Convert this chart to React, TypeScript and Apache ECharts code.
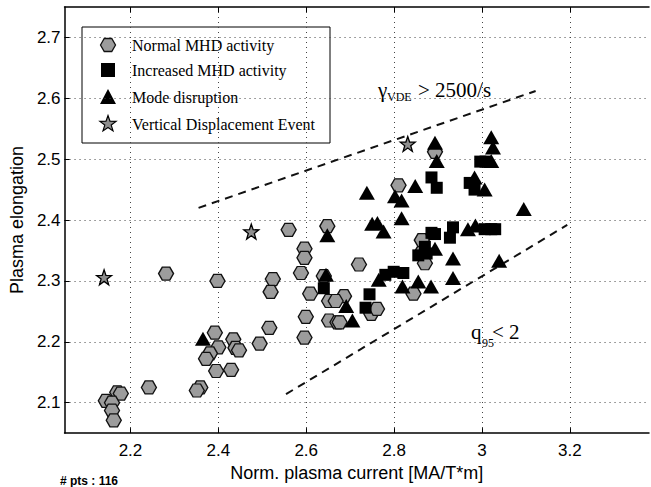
import React, { useEffect, useRef } from 'react';
import * as echarts from 'echarts';

// Tick positions on both axes
const xTicks = [2.2, 2.4, 2.6, 2.8, 3.0, 3.2];
const yTicks = [2.1, 2.2, 2.3, 2.4, 2.5, 2.6, 2.7];

// [normalised plasma current, plasma elongation]
const normalMHD = [
  [2.144, 2.103], [2.170, 2.117], [2.178, 2.115], [2.158, 2.100], [2.158, 2.087], [2.162, 2.071],
  [2.242, 2.125], [2.281, 2.312], [2.398, 2.300],
  [2.392, 2.215], [2.400, 2.191], [2.381, 2.181], [2.372, 2.172],
  [2.434, 2.204], [2.439, 2.190], [2.447, 2.186],
  [2.395, 2.152], [2.429, 2.154], [2.359, 2.125], [2.351, 2.120],
  [2.494, 2.197], [2.516, 2.223],
  [2.560, 2.384], [2.648, 2.390], [2.596, 2.353], [2.596, 2.338], [2.588, 2.313], [2.524, 2.303], [2.519, 2.282],
  [2.640, 2.308], [2.609, 2.279], [2.652, 2.267], [2.599, 2.241], [2.652, 2.235], [2.671, 2.232], [2.596, 2.207],
  [2.720, 2.327], [2.686, 2.275], [2.667, 2.267], [2.676, 2.232], [2.748, 2.246], [2.761, 2.254],
  [2.844, 2.279], [2.866, 2.351], [2.870, 2.329], [2.863, 2.367],
  [2.810, 2.457], [2.893, 2.512],
];

const increasedMHD = [
  [2.640, 2.288], [2.744, 2.278], [2.735, 2.256], [2.780, 2.310], [2.799, 2.315], [2.821, 2.313],
  [2.855, 2.342], [2.874, 2.345], [2.870, 2.356], [2.885, 2.379], [2.893, 2.377],
  [2.934, 2.388], [2.927, 2.371], [3.006, 2.385], [3.021, 2.385], [3.030, 2.385],
  [2.885, 2.470], [2.897, 2.453], [2.972, 2.461], [2.983, 2.450], [2.996, 2.496], [3.008, 2.496],
];

const modeDisruption = [
  [2.365, 2.205], [2.648, 2.375], [2.645, 2.310], [2.691, 2.259], [2.705, 2.235], [2.765, 2.302],
  [2.819, 2.291], [2.855, 2.299], [2.884, 2.291], [2.934, 2.305], [2.934, 2.337], [3.039, 2.333],
  [2.738, 2.445], [2.848, 2.456], [2.802, 2.439], [2.817, 2.432], [2.817, 2.403],
  [2.750, 2.394], [2.762, 2.395], [2.776, 2.381], [2.893, 2.353],
  [2.893, 2.527], [2.897, 2.497],
  [3.021, 2.536], [3.025, 2.519], [3.021, 2.497], [2.983, 2.470], [3.006, 2.450], [3.095, 2.418],
  [2.968, 2.385], [2.985, 2.391],
];

const verticalDisplacement = [
  [2.140, 2.306], [2.475, 2.381], [2.831, 2.525],
];

// Stability boundaries
const vdeBoundary = [[2.355, 2.42], [3.122, 2.612]];
const q95Boundary = [[2.554, 2.114], [3.194, 2.392]];

const legendNames = [
  'Normal MHD activity',
  'Increased MHD activity',
  'Mode disruption',
  'Vertical Displacement Event',
];

const HEX_PATH = 'path://M0,6L3.5,0L10.5,0L14,6L10.5,12L3.5,12Z';
const STAR_D =
  'M0,-10L2.35,-3.24L9.51,-3.09L3.8,1.24L5.88,8.09L0,4L-5.88,8.09L-3.8,1.24L-9.51,-3.09L-2.35,-3.24Z';
const STAR_PATH = 'path://' + STAR_D;

echarts.graphic.registerShape(
  'hexMark',
  echarts.graphic.extendPath('M-7.5,0L-3.75,-6.5L3.75,-6.5L7.5,0L3.75,6.5L-3.75,6.5Z', {})
);
echarts.graphic.registerShape('starMark', echarts.graphic.extendPath(STAR_D, {}));

const HEX_FILL = '#9c9c9c';
const SANS = '"Liberation Sans", Arial, Helvetica, sans-serif';
const SERIF = '"Liberation Serif", "Times New Roman", serif';

export default function App() {
  const ref = useRef<HTMLDivElement>(null);

  useEffect(() => {
    if (!ref.current) return;
    const chart = echarts.init(ref.current, undefined, { renderer: 'svg' });

    const gridLine = { show: true, lineStyle: { color: '#444', width: 1, type: [1, 4] } };

    const legendRows = [45, 70, 97, 124];

    chart.setOption({
      animation: false,
      backgroundColor: '#fff',
      grid: { left: 60, right: 2, top: 7, bottom: 46 },
      xAxis: [
        {
          type: 'value',
          min: 2.05,
          max: 3.38,
          name: 'Norm. plasma current [MA/T*m]',
          nameLocation: 'middle',
          nameGap: 25,
          nameTextStyle: { fontFamily: SANS, fontSize: 18, color: '#000' },
          axisLine: { show: true, onZero: false, lineStyle: { color: '#000', width: 1.5 } },
          axisTick: { show: true, inside: true, length: 5, customValues: xTicks, lineStyle: { color: '#000' } },
          axisLabel: {
            customValues: xTicks,
            fontFamily: SANS,
            fontSize: 17,
            color: '#000',
            margin: 9,
          },
          splitLine: gridLine,
        },
        {
          type: 'value',
          position: 'top',
          min: 2.05,
          max: 3.38,
          axisLine: { show: true, onZero: false, lineStyle: { color: '#000', width: 1.5 } },
          axisTick: { show: true, inside: true, length: 5, customValues: xTicks, lineStyle: { color: '#000' } },
          axisLabel: { show: false },
          splitLine: { show: false },
        },
      ],
      yAxis: [
        {
          type: 'value',
          min: 2.05,
          max: 2.75,
          name: 'Plasma elongation',
          nameLocation: 'middle',
          nameGap: 33,
          nameTextStyle: { fontFamily: SANS, fontSize: 18, color: '#000' },
          axisLine: { show: true, onZero: false, lineStyle: { color: '#000', width: 1.5 } },
          axisTick: { show: true, inside: true, length: 5, customValues: yTicks, lineStyle: { color: '#000' } },
          axisLabel: {
            customValues: yTicks,
            fontFamily: SANS,
            fontSize: 17,
            color: '#000',
            margin: 4,
          },
          splitLine: gridLine,
        },
      ],
      series: [
        {
          type: 'line',
          data: vdeBoundary,
          symbol: 'none',
          lineStyle: { color: '#111', width: 2, type: [8, 6] },
          z: 1,
        },
        {
          type: 'line',
          data: q95Boundary,
          symbol: 'none',
          lineStyle: { color: '#111', width: 2, type: [8, 6] },
          z: 1,
        },
        {
          name: legendNames[0],
          type: 'scatter',
          data: normalMHD,
          symbol: HEX_PATH,
          symbolSize: [15, 13],
          itemStyle: { color: HEX_FILL, borderColor: '#111', borderWidth: 1.3, opacity: 1 },
          z: 2,
        },
        {
          name: legendNames[1],
          type: 'scatter',
          data: increasedMHD,
          symbol: 'rect',
          symbolSize: 12,
          itemStyle: { color: '#000', opacity: 1 },
          z: 3,
        },
        {
          name: legendNames[2],
          type: 'scatter',
          data: modeDisruption,
          symbol: 'triangle',
          symbolSize: [16, 14],
          itemStyle: { color: '#000', opacity: 1 },
          z: 4,
        },
        {
          name: legendNames[3],
          type: 'scatter',
          data: verticalDisplacement,
          symbol: STAR_PATH,
          symbolSize: 15,
          itemStyle: { color: '#8e8e8e', borderColor: '#000', borderWidth: 1.3, opacity: 1 },
          z: 5,
        },
      ],
      graphic: [
        {
          type: 'group',
          z: 100,
          children: [
            {
              type: 'rect',
              shape: { x: 82, y: 27, width: 248, height: 116 },
              style: { fill: '#fff', stroke: '#000', lineWidth: 1 },
            },
            {
              type: 'hexMark',
              x: 108,
              y: legendRows[0],
              style: { fill: HEX_FILL, stroke: '#111', lineWidth: 1.3 },
            },
            {
              type: 'rect',
              shape: { x: 101, y: legendRows[1] - 7, width: 14, height: 14 },
              style: { fill: '#000' },
            },
            {
              type: 'polygon',
              shape: { points: [[108, legendRows[2] - 8], [100, legendRows[2] + 7], [116, legendRows[2] + 7]] },
              style: { fill: '#000' },
            },
            {
              type: 'starMark',
              x: 108,
              y: legendRows[3],
              scaleX: 0.85,
              scaleY: 0.85,
              style: { fill: '#8e8e8e', stroke: '#000', lineWidth: 1.4 },
            },
            ...legendNames.map((name, i) => ({
              type: 'text',
              x: 132,
              y: legendRows[i],
              style: {
                text: name,
                font: `16px ${SERIF}`,
                fill: '#000',
                verticalAlign: 'middle',
              },
            })),
          ],
        },
        {
          type: 'text',
          x: 378,
          y: 90,
          style: { text: 'γ', font: `21px ${SERIF}`, fill: '#000', verticalAlign: 'middle' },
        },
        {
          type: 'text',
          x: 387,
          y: 97,
          style: { text: 'VDE', font: `12px ${SERIF}`, fill: '#000', verticalAlign: 'middle' },
        },
        {
          type: 'text',
          x: 418,
          y: 90,
          style: { text: '> 2500/s', font: `21px ${SERIF}`, fill: '#000', verticalAlign: 'middle' },
        },
        {
          type: 'text',
          x: 471,
          y: 332,
          style: { text: 'q', font: `21px ${SERIF}`, fill: '#000', verticalAlign: 'middle' },
        },
        {
          type: 'text',
          x: 482,
          y: 343,
          style: { text: '95', font: `12px ${SERIF}`, fill: '#000', verticalAlign: 'middle' },
        },
        {
          type: 'text',
          x: 492,
          y: 332,
          style: { text: '< 2', font: `21px ${SERIF}`, fill: '#000', verticalAlign: 'middle' },
        },
        {
          type: 'text',
          x: 60,
          y: 481,
          style: { text: '# pts : 116', font: `bold 12px ${SANS}`, fill: '#000', verticalAlign: 'middle' },
        },
      ],
    });

    return () => chart.dispose();
  }, []);

  return (
    <div
      ref={ref}
      style={{ position: 'fixed', left: 0, top: 0, width: 651, height: 487, background: '#fff' }}
    />
  );
}
